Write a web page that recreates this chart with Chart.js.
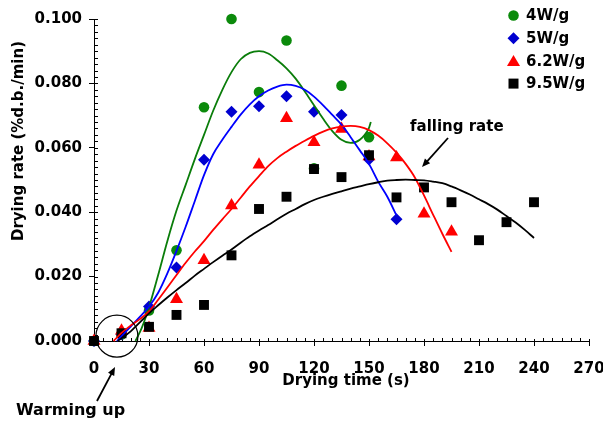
<!DOCTYPE html>
<html>
<head>
<meta charset="utf-8">
<script src="https://cdn.jsdelivr.net/npm/chart.js@4.4.1/dist/chart.umd.min.js"></script>
<style>
  html, body { margin: 0; padding: 0; background: #fff; }
  #wrap { width: 603px; height: 426px; }
</style>
</head>
<body>
<div id="wrap"><canvas id="rateChart"></canvas></div>
<script>
// measured drying rates (%d.b./min) per power level
const seriesNames = ['4W/g', '5W/g', '6.2W/g', '9.5W/g'];

const time4 = [0, 15, 30, 45, 60, 75, 90, 105, 120, 135, 150];
const rate4 = [0, 0.002, 0.0095, 0.0282, 0.0726, 0.1, 0.0773, 0.0933, 0.0536, 0.0793, 0.0633];

const time5 = [0, 15, 30, 45, 60, 75, 90, 105, 120, 135, 150, 165];
const rate5 = [0, 0.0021, 0.0107, 0.0228, 0.0563, 0.0712, 0.0729, 0.076, 0.0712, 0.0702, 0.0564, 0.0378];

const time62 = [0, 15, 30, 45, 60, 75, 90, 105, 120, 135, 150, 165, 180, 195];
const rate62 = [0, 0.0032, 0.004, 0.013, 0.0251, 0.0421, 0.0547, 0.0692, 0.0617, 0.0658, 0.0573, 0.057, 0.0395, 0.0339];

const time95 = [0, 15, 30, 45, 60, 75, 90, 105, 120, 135, 150, 165, 180, 195, 210, 225, 240];
const rate95 = [0, 0.0024, 0.0044, 0.0081, 0.0112, 0.0266, 0.041, 0.0448, 0.0534, 0.0509, 0.0577, 0.0446, 0.0477, 0.0431, 0.0313, 0.0369, 0.0431];

// trend lines
const fitTime4 = [22.6, 26, 30, 35, 40, 45, 50, 55, 60, 65, 70, 75, 80, 85, 90, 95, 100, 105, 110, 115, 120, 125, 130, 135, 140, 145, 150, 151];
const fitRate4 = [0, 0.004, 0.0105, 0.0205, 0.031, 0.0405, 0.0485, 0.0565, 0.064, 0.0715, 0.078, 0.0835, 0.0875, 0.0895, 0.09, 0.0893, 0.0872, 0.0847, 0.0815, 0.0775, 0.0732, 0.069, 0.0652, 0.0625, 0.0615, 0.0625, 0.0662, 0.068];

const fitTime5 = [12.5, 15, 20, 25, 30, 35, 40, 45, 50, 55, 60, 65, 70, 75, 80, 85, 90, 95, 100, 105, 110, 115, 120, 125, 130, 135, 140, 145, 150, 155, 160, 165];
const fitRate5 = [0, 0.0015, 0.0045, 0.0075, 0.0107, 0.015, 0.021, 0.028, 0.0355, 0.0435, 0.0515, 0.058, 0.0625, 0.0665, 0.0703, 0.0735, 0.076, 0.0778, 0.079, 0.0796, 0.0792, 0.078, 0.0759, 0.0732, 0.0702, 0.0672, 0.0633, 0.0592, 0.055, 0.0495, 0.0448, 0.039];

const fitTime62 = [10.7, 15, 20, 25, 30, 35, 40, 45, 50, 55, 60, 65, 70, 75, 80, 85, 90, 95, 100, 105, 110, 115, 120, 125, 130, 135, 140, 145, 150, 155, 160, 165, 170, 175, 180, 185, 190, 195];
const fitRate62 = [0, 0.0025, 0.0048, 0.0068, 0.0092, 0.0128, 0.0166, 0.0205, 0.0243, 0.0278, 0.031, 0.0345, 0.0378, 0.041, 0.0445, 0.048, 0.0512, 0.0543, 0.0568, 0.0588, 0.0606, 0.0622, 0.0637, 0.065, 0.066, 0.0666, 0.0668, 0.0665, 0.0655, 0.0638, 0.0614, 0.0585, 0.055, 0.0508, 0.0452, 0.0392, 0.0333, 0.0277];

const fitTime95 = [13, 20, 25, 30, 35, 40, 45, 50, 55, 60, 65, 70, 75, 80, 85, 90, 95, 100, 105, 110, 115, 120, 125, 130, 135, 140, 145, 150, 155, 160, 165, 170, 175, 180, 185, 190, 195, 200, 205, 210, 215, 220, 225, 230, 235, 240];
const fitRate95 = [0, 0.003, 0.0058, 0.0086, 0.0111, 0.0135, 0.0158, 0.018, 0.0203, 0.0224, 0.0245, 0.0265, 0.0284, 0.0305, 0.0325, 0.0343, 0.036, 0.0378, 0.0395, 0.041, 0.0425, 0.0438, 0.0448, 0.0457, 0.0465, 0.0473, 0.048, 0.0487, 0.0493, 0.0498, 0.05, 0.0501, 0.05, 0.0499, 0.0495, 0.049, 0.048, 0.0468, 0.0455, 0.044, 0.0425, 0.0408, 0.0388, 0.0368, 0.0345, 0.032];

// axis ticks
const xTicks = [0, 30, 60, 90, 120, 150, 180, 210, 240, 270];
const yTicks = [0, 0.02, 0.04, 0.06, 0.08, 0.1];

const FONT = '"DejaVu Sans", sans-serif';
const GREEN = '#0b8a0b', BLUE = '#0000d0', RED = '#ff0000', BLACK = '#000000';

function pairs(xs, ys) {
    return xs.map((x, i) => ({ x: x, y: ys[i] }));
}

function fitLine(xs, ys, color) {
    return {
        data: pairs(xs, ys),
        showLine: true,
        borderColor: color,
        borderWidth: 1.8,
        pointRadius: 0,
        cubicInterpolationMode: 'monotone',
        clip: false
    };
}

function markers(xs, ys, color, style, radius) {
    return {
        data: pairs(xs, ys),
        showLine: false,
        backgroundColor: color,
        borderWidth: 0,
        pointStyle: style,
        pointRadius: radius,
        clip: false
    };
}

// extra drawing: inner/minor ticks, axis titles, legend, annotations
const decorPlugin = {
    id: 'decor',
    beforeDatasetsDraw(chart) {
        const ctx = chart.ctx;
        const xs = chart.scales.x, ys = chart.scales.y;
        const area = chart.chartArea;
        ctx.save();
        ctx.strokeStyle = '#000';
        ctx.lineWidth = 1;
        ctx.beginPath();
        for (let v = 0; v <= 270; v += 5) {
            const px = Math.round(xs.getPixelForValue(v)) + 0.5;
            const len = (v % 30 === 0) ? 2 : 3;
            ctx.moveTo(px, area.bottom);
            ctx.lineTo(px, area.bottom - len);
        }
        for (let i = 0; i <= 50; i++) {
            const py = Math.round(ys.getPixelForValue(i * 0.002)) + 0.5;
            ctx.moveTo(area.left, py);
            ctx.lineTo(area.left + 4, py);
        }
        ctx.stroke();
        ctx.restore();
    },
    afterDraw(chart) {
        const ctx = chart.ctx;
        const xs = chart.scales.x, ys = chart.scales.y;
        ctx.save();
        ctx.fillStyle = '#000';
        ctx.font = 'bold 15px ' + FONT;
        ctx.textBaseline = 'middle';

        // axis titles
        ctx.textAlign = 'center';
        ctx.fillText('Drying time (s)', 346, 381);
        ctx.save();
        ctx.translate(19, 141);
        ctx.rotate(-Math.PI / 2);
        ctx.fillText('Drying rate (%d.b./min)', 0, 0);
        ctx.restore();

        // legend
        const colors = [GREEN, BLUE, RED, BLACK];
        const mx = 513.5;
        ctx.textAlign = 'left';
        seriesNames.forEach((name, i) => {
            const y = 15.5 + i * 22.7;
            ctx.fillStyle = colors[i];
            ctx.beginPath();
            if (i === 0) {
                ctx.arc(mx, y, 5.3, 0, Math.PI * 2);
            } else if (i === 1) {
                ctx.moveTo(mx - 6, y); ctx.lineTo(mx, y - 6);
                ctx.lineTo(mx + 6, y); ctx.lineTo(mx, y + 6);
            } else if (i === 2) {
                ctx.moveTo(mx, y - 6); ctx.lineTo(mx + 6.5, y + 5);
                ctx.lineTo(mx - 6.5, y + 5);
            } else {
                ctx.rect(mx - 5, y - 5, 10, 10);
            }
            ctx.closePath();
            ctx.fill();
            ctx.fillStyle = '#000';
            ctx.fillText(name, 526, y + 1);
        });

        // warming up annotation
        const cx = xs.getPixelForValue(12.5), cy = ys.getPixelForValue(0.0015);
        ctx.strokeStyle = '#000';
        ctx.lineWidth = 1.2;
        ctx.beginPath();
        ctx.arc(cx, cy, 21, 0, Math.PI * 2);
        ctx.stroke();
        drawArrow(ctx, 97, 401, 115, 367);
        ctx.font = 'bold 16px ' + FONT;
        ctx.fillText('Warming up', 16, 411);

        // falling rate annotation
        ctx.font = 'bold 15px ' + FONT;
        ctx.fillText('falling rate', 410, 127);
        drawArrow(ctx, 448, 138, 422, 167);
        ctx.restore();
    }
};

function drawArrow(ctx, x1, y1, x2, y2) {
    const ang = Math.atan2(y2 - y1, x2 - x1);
    const head = 9, spread = 0.4;
    ctx.beginPath();
    ctx.lineWidth = 1.8;
    ctx.moveTo(x1, y1);
    ctx.lineTo(x2 - Math.cos(ang) * 6, y2 - Math.sin(ang) * 6);
    ctx.stroke();
    ctx.beginPath();
    ctx.moveTo(x2, y2);
    ctx.lineTo(x2 - head * Math.cos(ang - spread), y2 - head * Math.sin(ang - spread));
    ctx.lineTo(x2 - head * Math.cos(ang + spread), y2 - head * Math.sin(ang + spread));
    ctx.closePath();
    ctx.fillStyle = '#000';
    ctx.fill();
}

const ctx = document.getElementById('rateChart').getContext('2d');
const rateChart = new Chart(ctx, {
    type: 'scatter',
    data: {
        // first dataset is drawn on top
        datasets: [
            fitLine(fitTime95, fitRate95, BLACK),
            fitLine(fitTime62, fitRate62, RED),
            fitLine(fitTime5, fitRate5, '#0000ff'),
            fitLine(fitTime4, fitRate4, '#0a7d0a'),
            markers(time95, rate95, BLACK, 'rect', 7),
            markers(time62, rate62, RED, 'triangle', 7.5),
            markers(time5, rate5, BLUE, 'rectRot', 6),
            markers(time4, rate4, GREEN, 'circle', 5.3)
        ]
    },
    options: {
        responsive: true,
        maintainAspectRatio: false,
        animation: false,
        layout: { padding: { top: 19, right: 14, left: 0, bottom: 0 } },
        plugins: {
            legend: { display: false },
            tooltip: { enabled: false }
        },
        scales: {
            x: {
                type: 'linear',
                min: 0,
                max: 270,
                afterFit: s => { s.height = 85; s.paddingLeft = 0; s.paddingRight = 0; },
                afterBuildTicks: s => { s.ticks = xTicks.map(v => ({ value: v })); },
                border: { color: '#000', width: 1 },
                grid: { drawOnChartArea: false, tickLength: 5, tickColor: '#000' },
                ticks: {
                    color: '#000',
                    padding: 14,
                    maxRotation: 0,
                    font: { family: FONT, size: 15, weight: 'bold' }
                }
            },
            y: {
                type: 'linear',
                min: 0,
                max: 0.1,
                afterFit: s => { s.width = 94; s.paddingTop = 0; s.paddingBottom = 0; },
                afterBuildTicks: s => { s.ticks = yTicks.map(v => ({ value: v })); },
                border: { color: '#000', width: 1 },
                grid: { drawOnChartArea: false, tickLength: 5, tickColor: '#000' },
                ticks: {
                    color: '#000',
                    padding: 7,
                    callback: v => v.toFixed(3),
                    font: { family: FONT, size: 15, weight: 'bold' }
                }
            }
        }
    },
    plugins: [decorPlugin]
});
</script>
</body>
</html>
